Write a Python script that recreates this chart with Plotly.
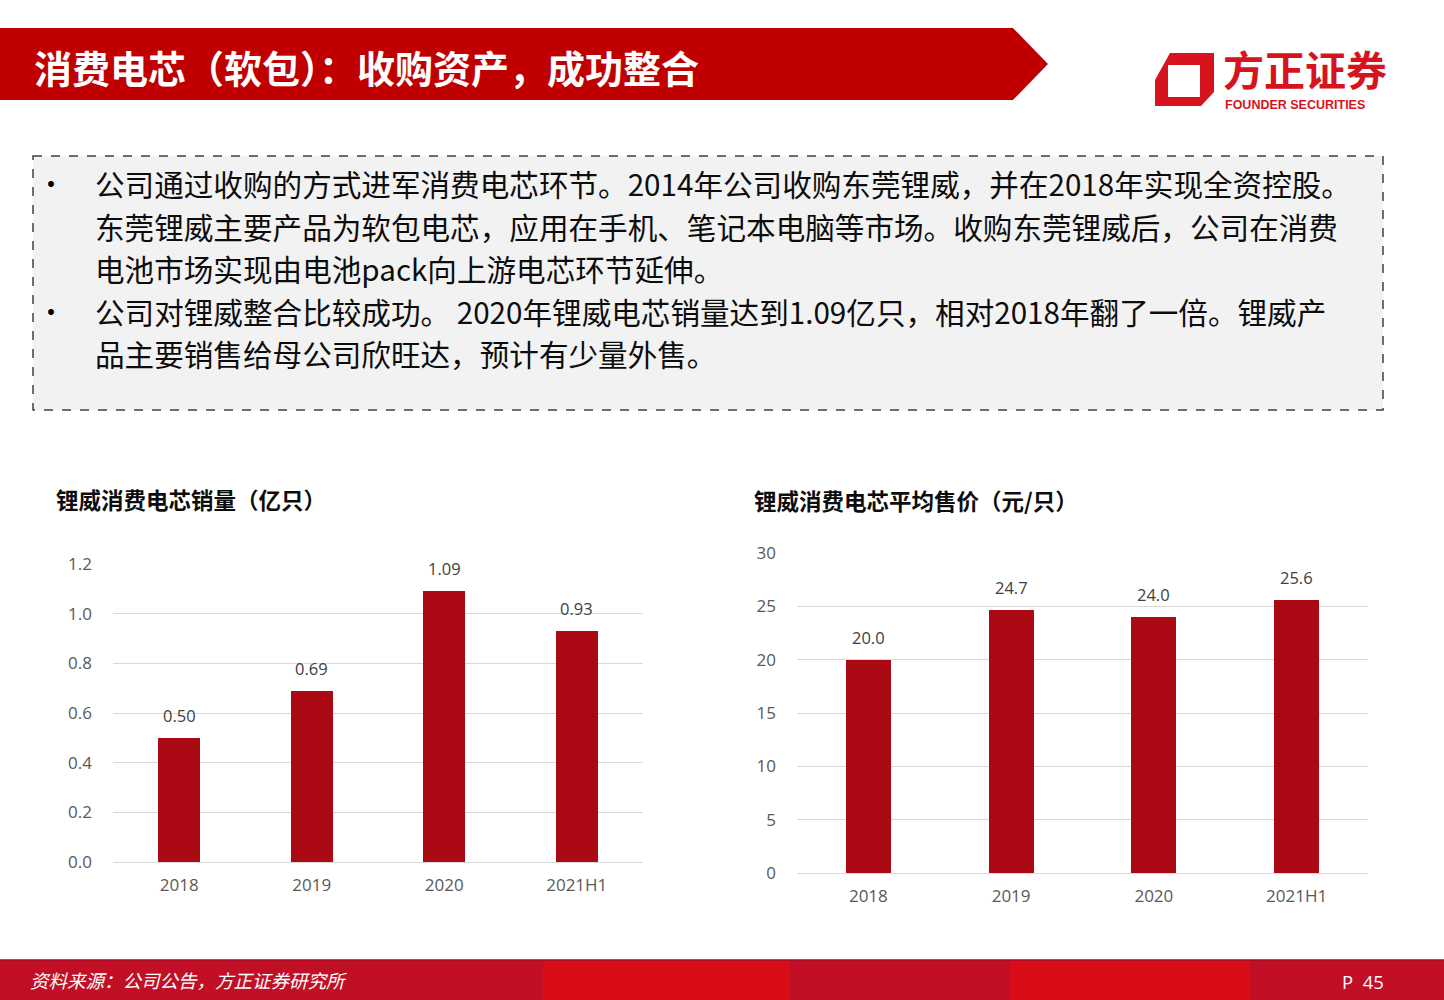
import plotly.graph_objects as go

# data
years = ["2018", "2019", "2020", "2021H1"]
sales = [0.50, 0.69, 1.09, 0.93]      # 亿只
prices = [20.0, 24.7, 24.0, 25.6]     # 元/只

title = "消费电芯（软包）：收购资产，成功整合"
chart1_title = "锂威消费电芯销量（亿只）"
chart2_title = "锂威消费电芯平均售价（元/只）"
bullet_lines = [
    ("公司通过收购的方式进军消费电芯环节。2014年公司收购东莞锂威，并在2018年实现全资控股。", True),
    ("东莞锂威主要产品为软包电芯，应用在手机、笔记本电脑等市场。收购东莞锂威后，公司在消费", False),
    ("电池市场实现由电池pack向上游电芯环节延伸。", False),
    ("公司对锂威整合比较成功。 2020年锂威电芯销量达到1.09亿只，相对2018年翻了一倍。锂威产", True),
    ("品主要销售给母公司欣旺达，预计有少量外售。", False),
]
source = "资料来源：公司公告，方正证券研究所"

W, H = 1444, 1000
CJK = "Noto Sans CJK SC"
BAR = "#AB0A15"
GRID = "#D9D9D9"
TICK = "#595959"

fig = go.Figure()
fig.add_trace(go.Bar(x=years, y=sales, xaxis="x", yaxis="y", width=0.32,
                     marker=dict(color=BAR, line=dict(width=0)), hoverinfo="x+y"))
fig.add_trace(go.Bar(x=years, y=prices, xaxis="x2", yaxis="y2", width=0.315,
                     marker=dict(color=BAR, line=dict(width=0)), hoverinfo="x+y"))
# invisible full-page axis for decorations in pixel units
fig.add_trace(go.Scatter(x=[0], y=[0], xaxis="x3", yaxis="y3", mode="markers",
                         marker=dict(opacity=0), hoverinfo="skip"))

ax_common = dict(showline=False, ticks="", tickfont=dict(family="Open Sans", size=17, color=TICK),
                 fixedrange=True, automargin=False)
cat_range = [-0.5, len(years) - 0.5]
fig.update_layout(
    width=W, height=H, margin=dict(l=0, r=0, t=0, b=0, pad=0, autoexpand=False),
    paper_bgcolor="white", plot_bgcolor="rgba(0,0,0,0)",
    showlegend=False, bargap=0,
    xaxis=dict(domain=[113 / W, 643 / W], anchor="y", type="category", range=cat_range,
               showgrid=False, ticklabelstandoff=11, **ax_common),
    yaxis=dict(domain=[1 - 862 / H, 1 - 564 / H], anchor="x", range=[0, 1.2], dtick=0.2,
               tickformat=".1f", showgrid=True, gridcolor=GRID, gridwidth=1,
               zeroline=True, zerolinecolor=GRID, zerolinewidth=1, ticklabelstandoff=20, **ax_common),
    xaxis2=dict(domain=[797 / W, 1368 / W], anchor="y2", type="category", range=cat_range,
                showgrid=False, ticklabelstandoff=11, **ax_common),
    yaxis2=dict(domain=[1 - 873 / H, 1 - 553 / H], anchor="x2", range=[0, 30], dtick=5,
                showgrid=True, gridcolor=GRID, gridwidth=1,
                zeroline=True, zerolinecolor=GRID, zerolinewidth=1, ticklabelstandoff=20, **ax_common),
    xaxis3=dict(domain=[0, 1], anchor="y3", range=[0, W], visible=False, fixedrange=True, automargin=False),
    yaxis3=dict(domain=[0, 1], anchor="x3", range=[H, 0], visible=False, fixedrange=True, automargin=False),
)

shapes = []
ann = []


def rect(x0, y0, x1, y1, color, **kw):
    shapes.append(dict(type="rect", xref="x3", yref="y3", x0=x0, y0=y0, x1=x1, y1=y1,
                       fillcolor=color, line=dict(width=0), layer="below", **kw))


def text(x, y, s, size, color="black", xanchor="left", bold=False, family=CJK, **kw):
    ann.append(dict(xref="x3", yref="y3", x=x, y=y, text=s, showarrow=False,
                    xanchor=xanchor, yanchor="middle",
                    font=dict(family=family, size=size, color=color,
                              weight="bold" if bold else "normal"), **kw))


# header banner
shapes.append(dict(type="path", xref="x3", yref="y3",
                   path="M 0 28 L 1013 28 L 1048 64 L 1013 100 L 0 100 Z",
                   fillcolor="#C00000", line=dict(width=0), layer="below"))
text(32, 66, title, 38, "white", bold=True)

# logo
shapes.append(dict(type="path", xref="x3", yref="y3",
                   path="M 1170 53 L 1214 53 L 1214 92 L 1201 106 L 1155 106 L 1155 80 Z",
                   fillcolor="#D7141E", line=dict(width=0), layer="below"))
shapes.append(dict(type="rect", xref="x3", yref="y3", x0=1168, y0=65, x1=1200, y1=97,
                   fillcolor="white", line=dict(width=0), layer="above"))
text(1221, 68, "方正证券", 41, "#D7141E", bold=True)
text(1223, 105, "FOUNDER SECURITIES", 12.5, "#D7141E", bold=True, family="Liberation Sans")

# dashed text box
shapes.append(dict(type="rect", xref="x3", yref="y3", x0=33, y0=156, x1=1383, y1=410,
                   fillcolor="#F2F2F2", line=dict(color="#404040", width=1.5, dash="dash"),
                   layer="below"))
line_y = [183, 226, 268, 311, 353]
for (s, bullet), y in zip(bullet_lines, line_y):
    if bullet:
        text(51, y, "•", 28, "black", xanchor="center")
    text(93, y, s, 29.6, "#0D0D0D")

# chart titles
text(54, 499, chart1_title, 22.5, "#0D0D0D", bold=True)
text(752, 500, chart2_title, 22.5, "#0D0D0D", bold=True)

# data labels above bars (x given as category index)
for xa, ya, vals, fmt in [("x", "y", sales, "{:.2f}"), ("x2", "y2", prices, "{:.1f}")]:
    for i, v in enumerate(vals):
        ann.append(dict(xref=xa, yref=ya, x=i, y=v, text=fmt.format(v), showarrow=False,
                        yanchor="bottom", yshift=9,
                        font=dict(family="Open Sans", size=16.5, color="#404040")))

# footer band
rect(0, 960, W, 1000, "#C10F25")
for x0, x1 in [(543, 790), (1010, 1250)]:
    rect(x0, 961, x1, 1000, "#D80D18")
shapes.append(dict(type="line", xref="x3", yref="y3", x0=0, x1=W, y0=960, y1=960,
                   line=dict(color="#A80B22", width=1.5), layer="below"))
text(28, 980, "<i>" + source + "</i>", 18.5, "white")
text(1340, 981, "P  45", 18.5, "white", family="Open Sans")

fig.update_layout(shapes=shapes, annotations=ann)
fig.write_html("out.html", config={"displayModeBar": False},
               post_script="document.body.style.margin='0';document.body.style.overflow='hidden';")
